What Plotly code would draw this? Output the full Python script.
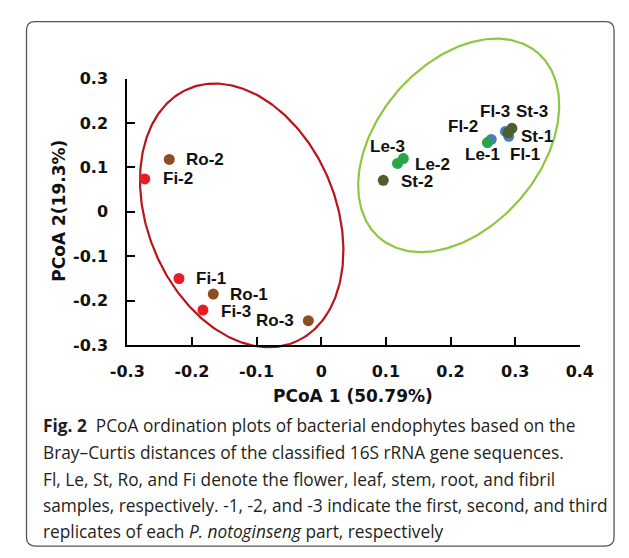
import numpy as np
import plotly.graph_objects as go

W, H = 629, 558

# ---------------- data ----------------
fl_names = ["Fl-1", "Fl-2", "Fl-3"]
fl_x = [0.290, 0.263, 0.285]
fl_y = [0.170, 0.163, 0.181]

le_names = ["Le-1", "Le-2", "Le-3"]
le_x = [0.257, 0.127, 0.118]
le_y = [0.156, 0.120, 0.109]

st_names = ["St-1", "St-2", "St-3"]
st_x = [0.289, 0.096, 0.295]
st_y = [0.178, 0.071, 0.188]

ro_names = ["Ro-1", "Ro-2", "Ro-3"]
ro_x = [-0.167, -0.235, -0.020]
ro_y = [-0.185, 0.118, -0.245]

fi_names = ["Fi-1", "Fi-2", "Fi-3"]
fi_x = [-0.220, -0.273, -0.183]
fi_y = [-0.150, 0.074, -0.221]

x_ticks = [-0.3, -0.2, -0.1, 0, 0.1, 0.2, 0.3, 0.4]
x_tick_labels = ["-0.3", "-0.2", "-0.1", "0", "0.1", "0.2", "0.3", "0.4"]
y_ticks = [-0.3, -0.2, -0.1, 0, 0.1, 0.2, 0.3]
y_tick_labels = ["-0.3", "-0.2", "-0.1", "0", "0.1", "0.2", "0.3"]

x_title = "PCoA 1 (50.79%)"
y_title = "PCoA 2(19.3%)"

# group ellipses: centre and two conjugate semi-axis vectors (data units)
red_center = (-0.123, -0.008)
red_u = (0.084, -0.284)
red_v = (0.133, 0.086)
green_center = (0.2126, 0.1496)
green_u = (0.124, 0.2063)
green_v = (0.0938, -0.1231)

caption_lines = [
    "<b>Fig. 2</b>  PCoA ordination plots of bacterial endophytes based on the",
    "Bray\u2013Curtis distances of the classified 16S rRNA gene sequences.",
    "Fl, Le, St, Ro, and Fi denote the flower, leaf, stem, root, and fibril",
    "samples, respectively. -1, -2, and -3 indicate the first, second, and third",
    "replicates of each <i>P. notoginseng</i> part, respectively",
]

# ---------------- styles ----------------
groups = [
    (fl_names, fl_x, fl_y, "#4a7ebb"),
    (le_names, le_x, le_y, "#2aa44a"),
    (st_names, st_x, st_y, "#4d5f2a"),
    (ro_names, ro_x, ro_y, "#8e4c1f"),
    (fi_names, fi_x, fi_y, "#e61d22"),
]

label_style = {  # anchor, xshift(px), yshift(px)
    "Fl-1": ("center", 16, -18),
    "Fl-2": ("center", -28, 13),
    "Fl-3": ("center", -10, 20),
    "Le-1": ("center", -5, -12),
    "Le-2": ("left", 10, -6),
    "Le-3": ("center", -10, 17),
    "St-1": ("left", 11, -4),
    "St-2": ("left", 16, -1),
    "St-3": ("center", 20, 17),
    "Ro-1": ("left", 15, 0),
    "Ro-2": ("left", 15, 0),
    "Ro-3": ("right", -12, 0),
    "Fi-1": ("left", 15, 0),
    "Fi-2": ("left", 16, 0),
    "Fi-3": ("left", 16, -1),
}

FONT = "DejaVu Sans"
LBL_FONT = "Liberation Sans"
CAP_FONT = "Open Sans"

# pixel layout
PX_XL, PX_XR = 116, 592      # x-axis from first to last tick
PX_YB, PX_YT = 348, 72       # y-axis from first to last tick
PX_ETOP, PX_EBOT = 16, 362   # extended area for ellipses

def fx(px):
    return px / W

def fy(py):
    return 1 - py / H

x_dom = [fx(PX_XL), fx(PX_XR)]
y_dom = [fy(PX_YB), fy(PX_YT)]
per_px = (y_ticks[-1] - y_ticks[0]) / (PX_YB - PX_YT)
ey_range = [y_ticks[0] - (PX_EBOT - PX_YB) * per_px, y_ticks[-1] + (PX_YT - PX_ETOP) * per_px]
ey_dom = [fy(PX_EBOT), fy(PX_ETOP)]

fig = go.Figure()

# ellipses (drawn on the lower, wider subplot)
t = np.linspace(0, 2 * np.pi, 361)
for c, u, v, col in [(red_center, red_u, red_v, "#b7141c"),
                     (green_center, green_u, green_v, "#8dc63f")]:
    ex = c[0] + u[0] * np.cos(t) + v[0] * np.sin(t)
    ey = c[1] + u[1] * np.cos(t) + v[1] * np.sin(t)
    fig.add_trace(go.Scatter(x=ex, y=ey, mode="lines", xaxis="x", yaxis="y",
                             line=dict(color=col, width=2.2), hoverinfo="skip",
                             showlegend=False))

annotations = []
for names, xs, ys, col in groups:
    fig.add_trace(go.Scatter(x=xs, y=ys, mode="markers", xaxis="x2", yaxis="y2",
                             marker=dict(size=11, color=col, line=dict(width=0)),
                             text=names, showlegend=False))
    for n, xv, yv in zip(names, xs, ys):
        anc, dx, dy = label_style[n]
        annotations.append(dict(x=xv, y=yv, xref="x2", yref="y2", text="<b>%s</b>" % n,
                                showarrow=False, xanchor=anc, yanchor="middle",
                                xshift=dx, yshift=dy,
                                font=dict(family=LBL_FONT, size=17, color="#111111")))

# axis titles
annotations.append(dict(x=fx(353), y=fy(401), xref="paper", yref="paper",
                        text="<b>%s</b>" % x_title, showarrow=False,
                        xanchor="center", yanchor="middle",
                        font=dict(family=FONT, size=17, color="#111111")))
annotations.append(dict(x=fx(44), y=fy(209), xref="paper", yref="paper",
                        text="<b>%s</b>" % y_title, showarrow=False, textangle=-90,
                        xanchor="center", yanchor="middle",
                        font=dict(family=FONT, size=17, color="#111111")))

# caption
cap_y = [431, 459, 487, 514, 541]
for line, py in zip(caption_lines, cap_y):
    annotations.append(dict(x=fx(25), y=fy(py), xref="paper", yref="paper",
                            text=line, showarrow=False, xanchor="left", yanchor="middle",
                            font=dict(family=CAP_FONT, size=17.3, color="#231f20")))

# rounded frame
L, R, T, B, r = 10, 628, 13, 556, 9
path = ("M {a},{b} L {c},{b} Q {d},{b} {d},{e} L {d},{f} Q {d},{g} {c},{g} "
        "L {a},{g} Q {h},{g} {h},{f} L {h},{e} Q {h},{b} {a},{b} Z").format(
    a=fx(L + r), b=fy(T), c=fx(R - r), d=fx(R), e=fy(T + r), f=fy(B - r), g=fy(B), h=fx(L))
shapes = [dict(type="path", xref="paper", yref="paper", path=path,
               line=dict(color="#555555", width=1.3))]

axis_common = dict(showgrid=False, zeroline=False, showline=True, linecolor="#000000",
                   linewidth=2, ticks="inside", ticklen=8, tickwidth=2, tickcolor="#000000",
                   tickfont=dict(family=FONT, size=16, color="#111111", weight="bold"))

fig.update_layout(
    width=W, height=H,
    margin=dict(l=0, r=0, t=0, b=0),
    paper_bgcolor="white", plot_bgcolor="rgba(0,0,0,0)",
    xaxis=dict(domain=x_dom, range=[x_ticks[0], x_ticks[-1]], visible=False),
    yaxis=dict(domain=ey_dom, range=ey_range, visible=False),
    xaxis2=dict(domain=x_dom, anchor="y2", range=[x_ticks[0], x_ticks[-1]],
                tickvals=x_ticks, ticktext=x_tick_labels, ticklabelstandoff=11, **axis_common),
    yaxis2=dict(domain=y_dom, anchor="x2", range=[y_ticks[0], y_ticks[-1]],
                tickvals=y_ticks, ticktext=y_tick_labels, ticklabelstandoff=14, **axis_common),
    annotations=annotations,
    shapes=shapes,
    showlegend=False,
)

fig.write_html("out.html", config={"displayModeBar": False},
               post_script="document.body.style.margin='0px';document.body.style.overflow='hidden';")
